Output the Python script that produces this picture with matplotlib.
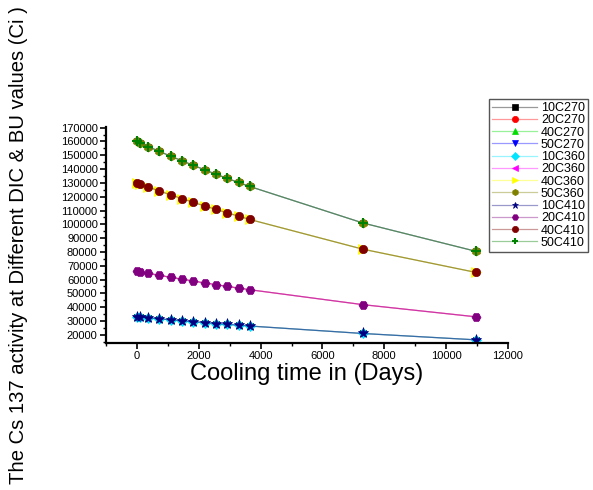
import matplotlib
matplotlib.use("Agg")
import matplotlib.pyplot as plt
from matplotlib.ticker import MultipleLocator

plt.rcParams["font.family"] = ["Liberation Sans", "DejaVu Sans"]

# cooling time (days)
days = [0, 90, 365, 730, 1095, 1460, 1825, 2190, 2555, 2920, 3285, 3650, 7300, 10950]

# Cs-137 activity (Ci); the 270/360/410 cases overlap
act_10c = [33000, 32700, 32200, 31500, 30800, 30100, 29400, 28800, 28100, 27500, 26900, 26300, 20900, 16300]
act_20c = [66000, 65500, 64500, 63000, 61600, 60200, 58900, 57500, 56300, 55000, 53800, 52600, 41800, 33000]
act_40c = [130000, 129000, 127000, 124100, 121300, 118600, 115900, 113300, 110800, 108300, 105900, 103500, 82000, 65200]
act_50c = [160000, 159000, 156300, 152800, 149300, 146000, 142700, 139500, 136300, 133300, 130300, 127400, 101000, 80500]

labels = ["10C270", "20C270", "40C270", "50C270",
          "10C360", "20C360", "40C360", "50C360",
          "10C410", "20C410", "40C410", "50C410"]
values = [act_10c, act_20c, act_40c, act_50c] * 3

colors = ["#000000", "#ff0000", "#00dd00", "#0000ff",
          "#00e5ff", "#ff00ff", "#ffff00", "#808000",
          "#000080", "#800080", "#800000", "#008000"]
markers = ["s", "o", "^", "v", "D", "<", ">", "h", "*", "H", "o", "+"]
sizes = [4, 4, 4, 4, 5, 5, 6.5, 6.5, 8, 6.5, 6, 7]

fig = plt.figure(figsize=(5.93, 4.90), dpi=100)
ax = fig.add_axes([106 / 593, 147 / 490, 402 / 593, 216 / 490])

for lab, y, c, m, s in zip(labels, values, colors, markers, sizes):
    rgba = matplotlib.colors.to_rgba(c, 0.4)
    ax.plot(days, y, color=rgba, lw=0.9, marker=m, ms=s,
            mfc=c, mec=c, mew=1.5 if m == "+" else 0.5, label=lab)

ax.set_xlim(-1000, 12000)
ax.set_ylim(14000, 170500)
ax.xaxis.set_major_locator(MultipleLocator(2000))
ax.xaxis.set_minor_locator(MultipleLocator(1000))
ax.yaxis.set_minor_locator(MultipleLocator(5000))
ax.set_yticks(range(20000, 170001, 10000))
ax.tick_params(which="major", direction="out", length=4, width=1.2, labelsize=8, pad=2)
ax.tick_params(which="minor", direction="out", length=2.5, width=1)
for s in ("top", "right"):
    ax.spines[s].set_visible(False)
for s in ("left", "bottom"):
    ax.spines[s].set_linewidth(1.6)

ax.set_xlabel("Cooling time in (Days)", fontsize=17, labelpad=1)
fig.text(0.031, 0.5, "The Cs 137 activity at Different DIC & BU values (Ci )",
         rotation=90, va="center", ha="center", fontsize=14.6)

leg = ax.legend(loc="upper right", bbox_to_anchor=(588 / 593, 1 - 99 / 490),
                bbox_transform=fig.transFigure, fontsize=9, handlelength=3.6,
                labelspacing=0.02, borderpad=0.25,
                handletextpad=0.3, borderaxespad=0,
                fancybox=False, framealpha=1, edgecolor="#555555")
leg.get_frame().set_linewidth(1.0)
for h in leg.legend_handles:
    h.set_markersize(4.5)

fig.savefig("out.png", dpi=100)
